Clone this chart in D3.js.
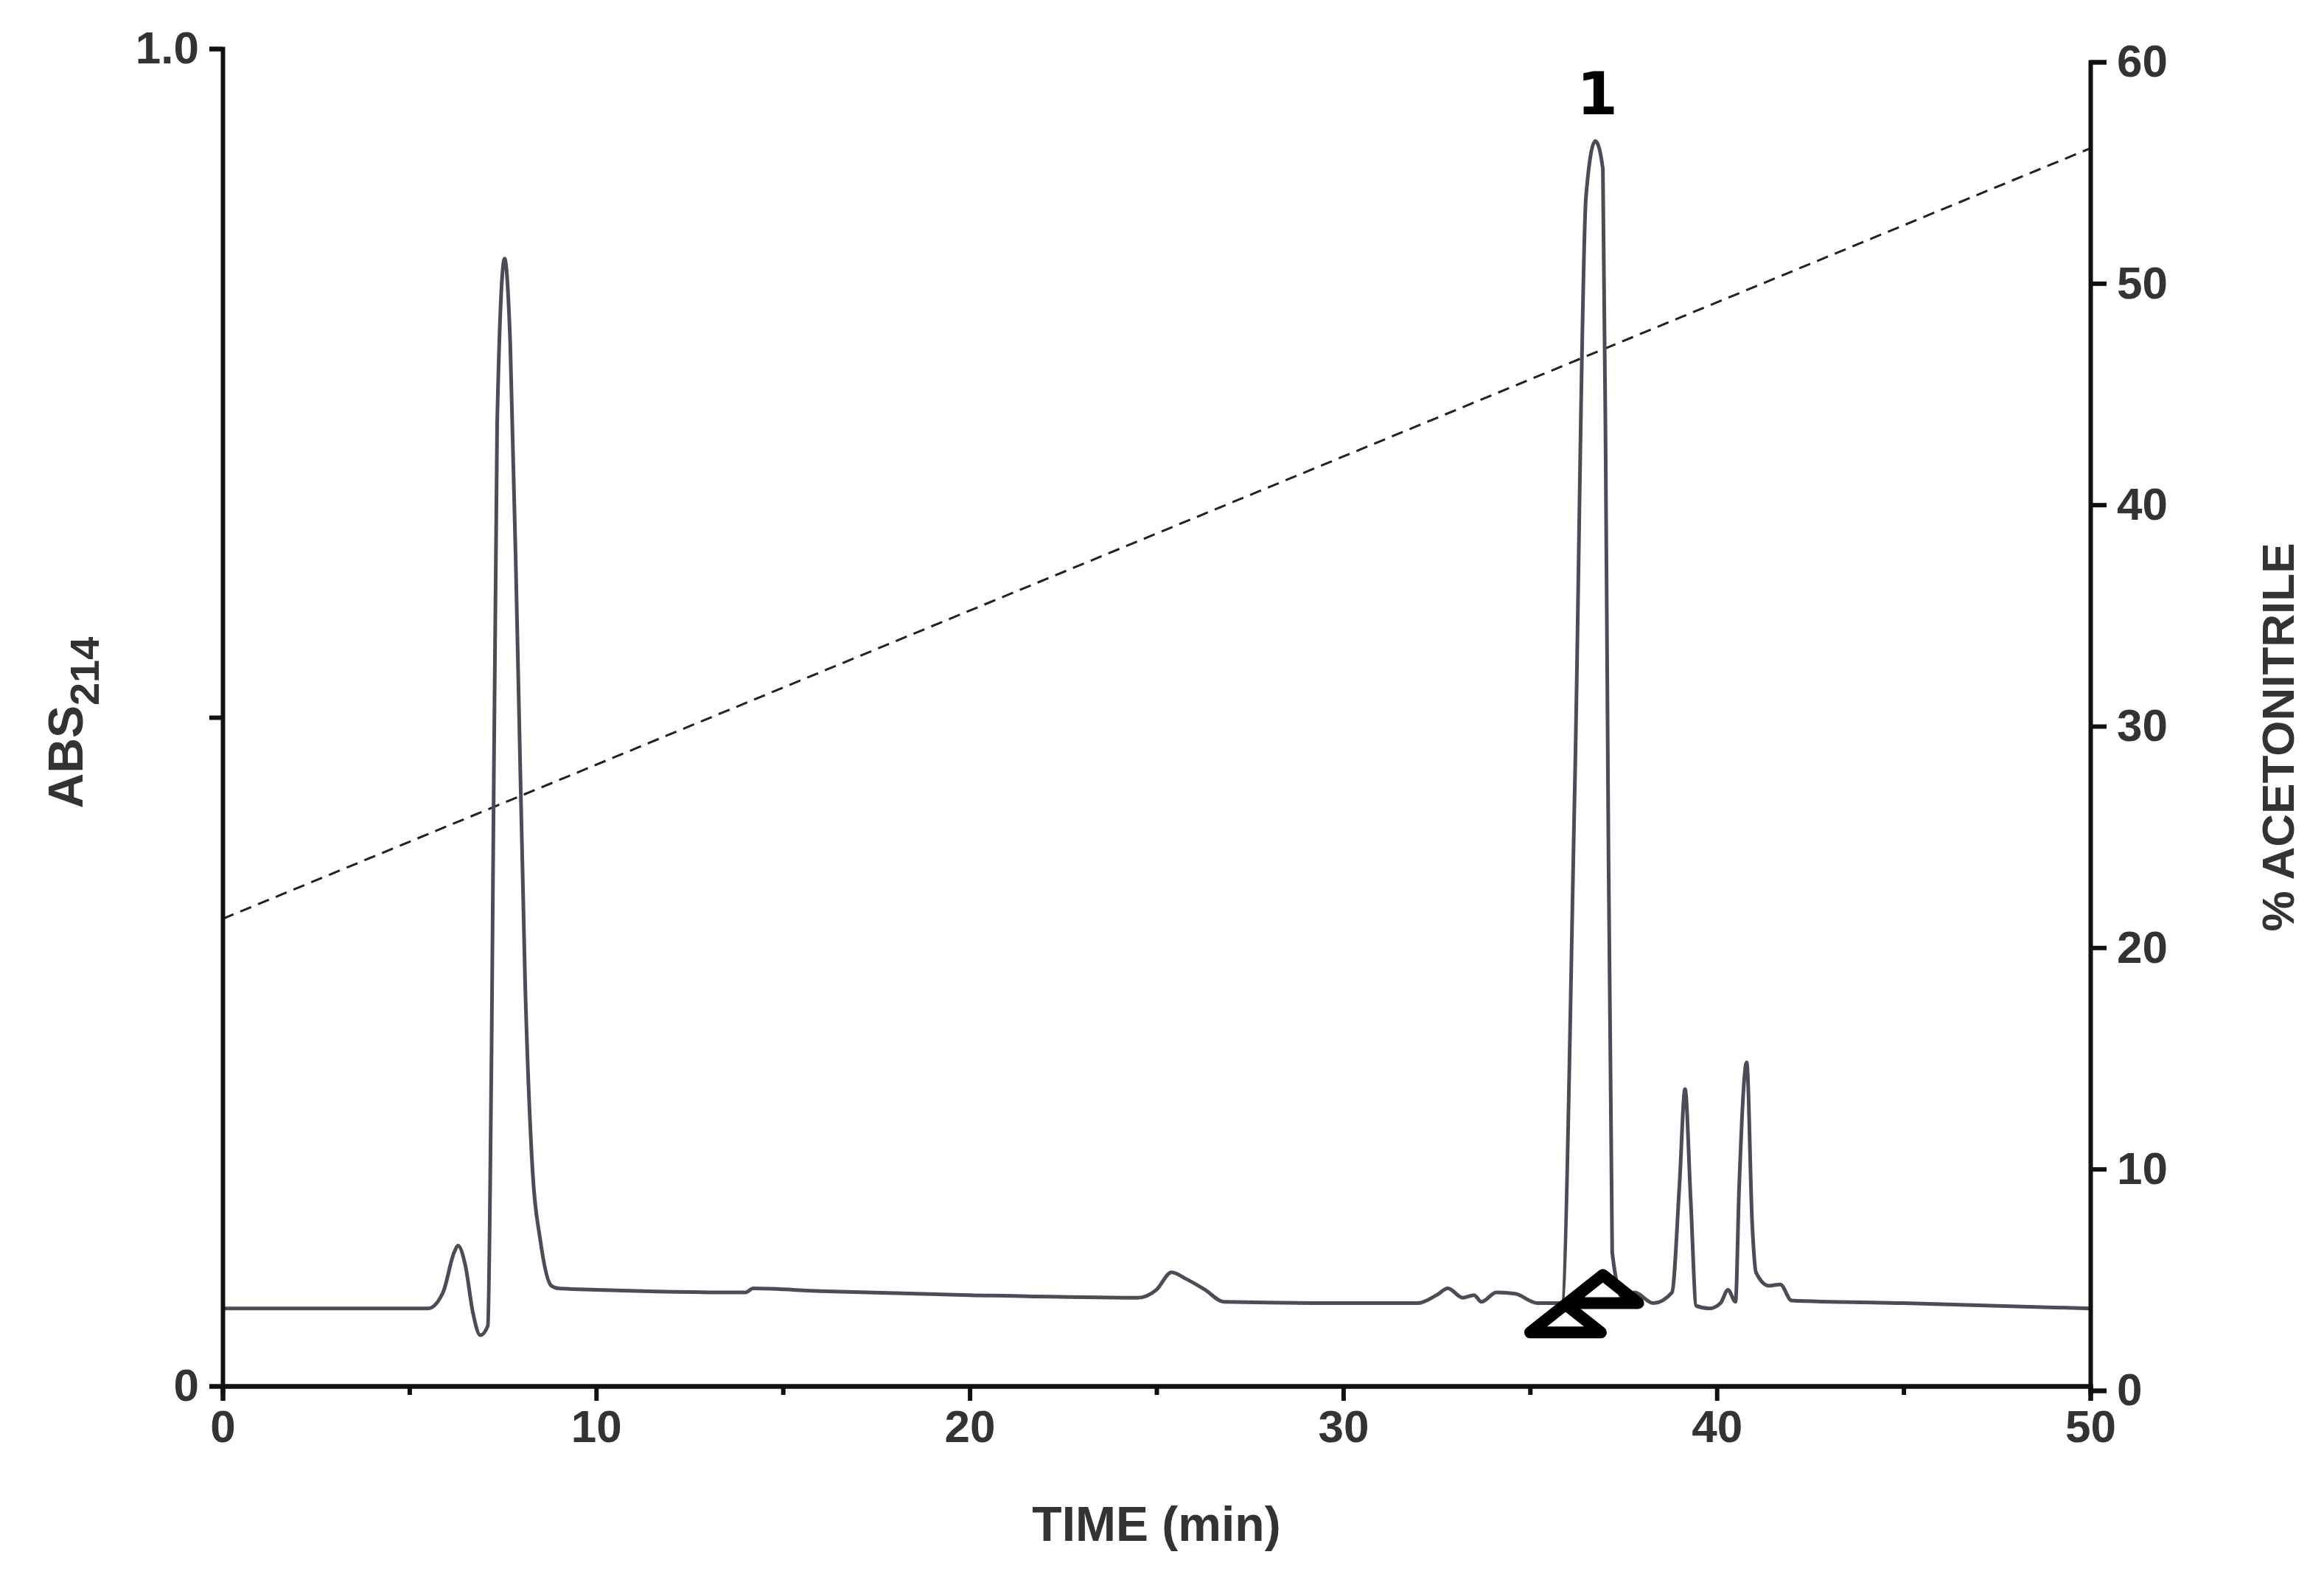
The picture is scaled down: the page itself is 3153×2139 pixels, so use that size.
<!DOCTYPE html>
<html><head><meta charset="utf-8">
<script src="https://cdn.jsdelivr.net/npm/d3@7"></script>
<style>body{margin:0;background:#fff}</style></head>
<body><svg id="c" width="3153" height="2139"></svg>
<script>
const time=[0,5.5,5.9,6.2,6.3,6.5,6.7,6.9,7.1,7.2,7.35,7.55,7.7,7.9,8.1,8.3,8.5,8.8,9.0,10,14,14.2,16,20,24.5,25.0,25.4,25.8,26.3,26.8,30,32,32.5,32.8,33.2,33.5,33.7,34.1,34.6,35.2,35.85,36.2,36.5,36.75,36.95,37.05,37.2,37.5,37.8,38.3,38.8,39.0,39.15,39.3,39.45,39.8,40.1,40.3,40.5,40.6,40.8,40.95,41.05,41.4,41.7,42.0,45,50];
const absorb=[0.058,0.058,0.070,0.100,0.105,0.090,0.055,0.038,0.045,0.25,0.72,0.843,0.78,0.55,0.30,0.16,0.11,0.075,0.073,0.072,0.070,0.073,0.071,0.068,0.066,0.072,0.085,0.080,0.072,0.063,0.062,0.062,0.068,0.073,0.066,0.068,0.063,0.070,0.069,0.062,0.062,0.45,0.89,0.931,0.91,0.60,0.10,0.065,0.070,0.062,0.070,0.150,0.222,0.14,0.060,0.058,0.062,0.072,0.063,0.150,0.242,0.12,0.085,0.075,0.076,0.064,0.062,0.058];
const gradTime=[0,50];
const gradPct=[21.3,56.1];
const markerTime=[35.95,36.95];
const markerAbs=[0.050,0.072];
const xTicks=[0,10,20,30,40,50];
const xMinor=[5,15,25,35,45];
const yTicks=[0,0.5,1.0];
const yLabels=["0","","1.0"];
const rTicks=[0,10,20,30,40,50,60];

const svg=d3.select("#c");
const x=d3.scaleLinear().domain([0,50]).range([302,2836]);
const y=d3.scaleLinear().domain([0,1]).range([1880,66]);
const yr=d3.scaleLinear().domain([0,60]).range([1886,84]);
const font="Liberation Sans, Arial, sans-serif";

svg.append("path").datum(gradTime.map((t,i)=>[t,gradPct[i]]))
 .attr("d",d3.line().x(d=>x(d[0])).y(d=>yr(d[1])))
 .attr("fill","none").attr("stroke","#222").attr("stroke-width",3).attr("stroke-dasharray","16,10");
svg.append("path").datum(time.map((t,i)=>[t,absorb[i]]))
 .attr("d",d3.line().curve(d3.curveMonotoneX).x(d=>x(d[0])).y(d=>y(d[1])))
 .attr("fill","none").attr("stroke","#4a4d55").attr("stroke-width",5).attr("stroke-linejoin","round");

const bx=svg.append("g").attr("transform","translate(0,1880)");
bx.call(d3.axisBottom(x).tickValues(xTicks).tickSize(20).tickPadding(12).tickFormat(d3.format("d")));
bx.append("g").call(d3.axisBottom(x).tickValues(xMinor).tickSize(12).tickFormat(""));
const ly=svg.append("g").attr("transform","translate(302,0)");
ly.call(d3.axisLeft(y).tickValues(yTicks).tickSize(18).tickPadding(14).tickFormat((d,i)=>yLabels[i]));
const ry=svg.append("g").attr("transform","translate(2836,0)");
ry.call(d3.axisRight(yr).tickValues(rTicks).tickSize(22).tickPadding(14).tickFormat(d3.format("d")));
svg.selectAll(".domain").attr("stroke","#111").attr("stroke-width",6);
svg.selectAll(".tick line").attr("stroke","#111").attr("stroke-width",6);
svg.selectAll(".tick text").attr("font-family",font).attr("font-size",62).attr("font-weight","bold").attr("fill","#333");

const tri="M-48,18 L0,-20 L48,18 Z";
svg.selectAll(".mk").data(markerTime).join("path")
 .attr("transform",(d,i)=>`translate(${x(d)},${y(markerAbs[i])})`)
 .attr("d",tri)
 .attr("fill","none").attr("stroke","#000").attr("stroke-width",16).attr("stroke-linejoin","round");

svg.append("text").attr("x",x(36.8)).attr("y",155).attr("text-anchor","middle")
 .attr("font-family","DejaVu Sans, sans-serif").attr("font-weight","bold").attr("font-size",80).text("1");
svg.append("text").attr("x",(x(0)+x(50))/2).attr("y",2090).attr("text-anchor","middle")
 .attr("font-family",font).attr("font-weight","bold").attr("font-size",66).attr("fill","#333").text("TIME (min)");
const lt=svg.append("text").attr("transform","translate(112,980) rotate(-90)").attr("text-anchor","middle")
 .attr("font-family",font).attr("font-weight","bold").attr("font-size",66).attr("fill","#333");
lt.append("tspan").text("ABS");
lt.append("tspan").attr("dy",22).attr("font-size",56).text("214");
svg.append("text").attr("transform","translate(3112,1000) rotate(-90)").attr("text-anchor","middle")
 .attr("font-family",font).attr("font-weight","bold").attr("font-size",62).attr("fill","#333").text("% ACETONITRILE");
</script></body></html>
